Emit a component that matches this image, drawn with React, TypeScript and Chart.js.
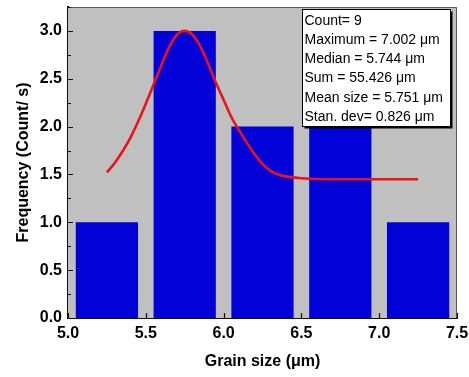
import React, { useEffect, useRef } from "react";
import { Chart, registerables } from "chart.js";

Chart.register(...registerables);

// ---- data ----
const binCenters = [5.25, 5.75, 6.25, 6.75, 7.25];
const binCounts = [1, 3, 2, 2, 1];

const curveX = [5.25, 5.3, 5.35, 5.4, 5.45, 5.5, 5.55, 5.6, 5.65, 5.7, 5.75, 5.8, 5.85, 5.9, 5.95, 6.0, 6.05, 6.1, 6.15, 6.2, 6.25, 6.3, 6.35, 6.4, 6.5, 6.75, 7.0, 7.25];
const curveY = [1.52, 1.62, 1.74, 1.88, 2.05, 2.24, 2.44, 2.64, 2.83, 2.96, 3.0, 2.96, 2.84, 2.66, 2.46, 2.28, 2.1, 1.96, 1.83, 1.71, 1.61, 1.54, 1.5, 1.48, 1.46, 1.45, 1.45, 1.45];

const xTicks = [5.0, 5.5, 6.0, 6.5, 7.0, 7.5];
const yTicks = [0.0, 0.5, 1.0, 1.5, 2.0, 2.5, 3.0];
const yMinorTicks = [0.25, 0.75, 1.25, 1.75, 2.25, 2.75, 3.25];

const statLines = [
  "Count= 9",
  "Maximum = 7.002 \u03bcm",
  "Median = 5.744 \u03bcm",
  "Sum = 55.426 \u03bcm",
  "Mean size = 5.751 \u03bcm",
  "Stan. dev= 0.826 \u03bcm",
];

const xTitle = "Grain size (\u03bcm)";
const yTitle = "Frequency (Count/ s)";

const FONT = "'Liberation Sans', Arial, Helvetica, sans-serif";

const framePlugin = {
  id: "framePlugin",
  beforeDatasetsDraw(chart: any) {
    const { ctx, chartArea: a } = chart;
    ctx.save();
    ctx.fillStyle = "#c0c0c0";
    ctx.fillRect(a.left, a.top, a.right - a.left, a.bottom - a.top);
    ctx.restore();
  },
  afterDraw(chart: any) {
    const { ctx, chartArea: a } = chart;
    const xs = chart.scales.x;
    const ys = chart.scales.y;
    ctx.save();
    // top & right frame
    ctx.strokeStyle = "#555";
    ctx.lineWidth = 1;
    ctx.beginPath();
    ctx.moveTo(a.left, a.top + 0.5);
    ctx.lineTo(a.right - 0.5, a.top + 0.5);
    ctx.lineTo(a.right - 0.5, a.bottom);
    ctx.stroke();
    // inward ticks
    ctx.strokeStyle = "#111";
    ctx.lineWidth = 1.2;
    ctx.beginPath();
    yTicks.forEach((v) => {
      const py = Math.round(ys.getPixelForValue(v)) + 0.5;
      ctx.moveTo(a.left, py);
      ctx.lineTo(a.left + 5, py);
    });
    yMinorTicks.forEach((v) => {
      const py = Math.round(ys.getPixelForValue(v)) + 0.5;
      ctx.moveTo(a.left, py);
      ctx.lineTo(a.left + 3, py);
    });
    xTicks.forEach((v) => {
      const px = Math.round(xs.getPixelForValue(v)) + 0.5;
      ctx.moveTo(px, a.bottom);
      ctx.lineTo(px, a.bottom - 5);
    });
    ctx.stroke();

    // stats box
    const bx = 302.5, by = 9.5, bw = 148, bh = 117;
    ctx.fillStyle = "#000";
    ctx.fillRect(bx + 2, by + 2, bw, bh);
    ctx.fillStyle = "#fff";
    ctx.fillRect(bx, by, bw, bh);
    ctx.strokeStyle = "#000";
    ctx.lineWidth = 1;
    ctx.strokeRect(bx, by, bw, bh);
    ctx.fillStyle = "#000";
    ctx.font = `14px ${FONT}`;
    ctx.textBaseline = "middle";
    ctx.textAlign = "left";
    statLines.forEach((t, i) => {
      ctx.fillText(t, 304.5, 20.7 + i * 19.3);
    });
    ctx.restore();
  },
};

export default function App() {
  const ref = useRef<HTMLCanvasElement | null>(null);
  useEffect(() => {
    document.body.style.margin = "0";
    const canvas = ref.current;
    if (!canvas) return;
    const chart = new Chart(canvas, {
      type: "bar",
      data: {
        datasets: [
          {
            type: "line",
            data: curveX.map((x, i) => ({ x, y: curveY[i] })),
            borderColor: "#e8141a",
            borderWidth: 2.6,
            pointRadius: 0,
            cubicInterpolationMode: "monotone",
            fill: false,
            order: 0,
          } as any,
          {
            type: "bar",
            data: binCenters.map((x, i) => ({ x, y: binCounts[i] })),
            backgroundColor: "#0202d8",
            borderWidth: 0,
            barPercentage: 1,
            categoryPercentage: 0.8,
            order: 1,
          } as any,
        ],
      },
      options: {
        animation: false,
        responsive: false,
        maintainAspectRatio: false,
        devicePixelRatio: 1,
        layout: { padding: { top: 7, right: 12, left: 0, bottom: 0 } },
        plugins: { legend: { display: false }, tooltip: { enabled: false } },
        scales: {
          x: {
            type: "linear",
            min: 5,
            max: 7.5,
            offset: false,
            grid: { display: false, drawTicks: false, offset: false },
            border: { display: true, color: "#111", width: 2 },
            afterBuildTicks: (s: any) => {
              s.ticks = xTicks.map((v) => ({ value: v }));
            },
            afterFit: (s: any) => {
              s.height = 59;
              s.paddingLeft = 0;
              s.paddingRight = 0;
            },
            ticks: {
              padding: 6,
              color: "#000",
              font: { family: FONT, size: 16, weight: "bold" },
              maxRotation: 0,
              autoSkip: false,
              callback: (v: any) => Number(v).toFixed(1),
            },
            title: {
              display: true,
              text: xTitle,
              color: "#000",
              font: { family: FONT, size: 16, weight: "bold" },
              padding: { top: 0, bottom: 5.5 },
            },
          },
          y: {
            type: "linear",
            min: 0,
            max: 3.25,
            grid: { display: false, drawTicks: false },
            border: { display: true, color: "#111", width: 2 },
            afterBuildTicks: (s: any) => {
              s.ticks = yTicks.map((v) => ({ value: v }));
            },
            afterFit: (s: any) => {
              s.width = 68;
              s.paddingTop = 0;
              s.paddingBottom = 0;
            },
            ticks: {
              padding: 6,
              color: "#000",
              font: { family: FONT, size: 16, weight: "bold" },
              autoSkip: false,
              callback: (v: any) => Number(v).toFixed(1),
            },
            title: {
              display: true,
              text: yTitle,
              color: "#000",
              font: { family: FONT, size: 16, weight: "bold" },
              padding: { top: 14, bottom: 0 },
            },
          },
        },
      } as any,
      plugins: [framePlugin],
    });
    return () => chart.destroy();
  }, []);
  return (
    <div style={{ width: 469, height: 377, background: "#fff" }}>
      <canvas ref={ref} width={469} height={377} style={{ display: "block" }} />
    </div>
  );
}
